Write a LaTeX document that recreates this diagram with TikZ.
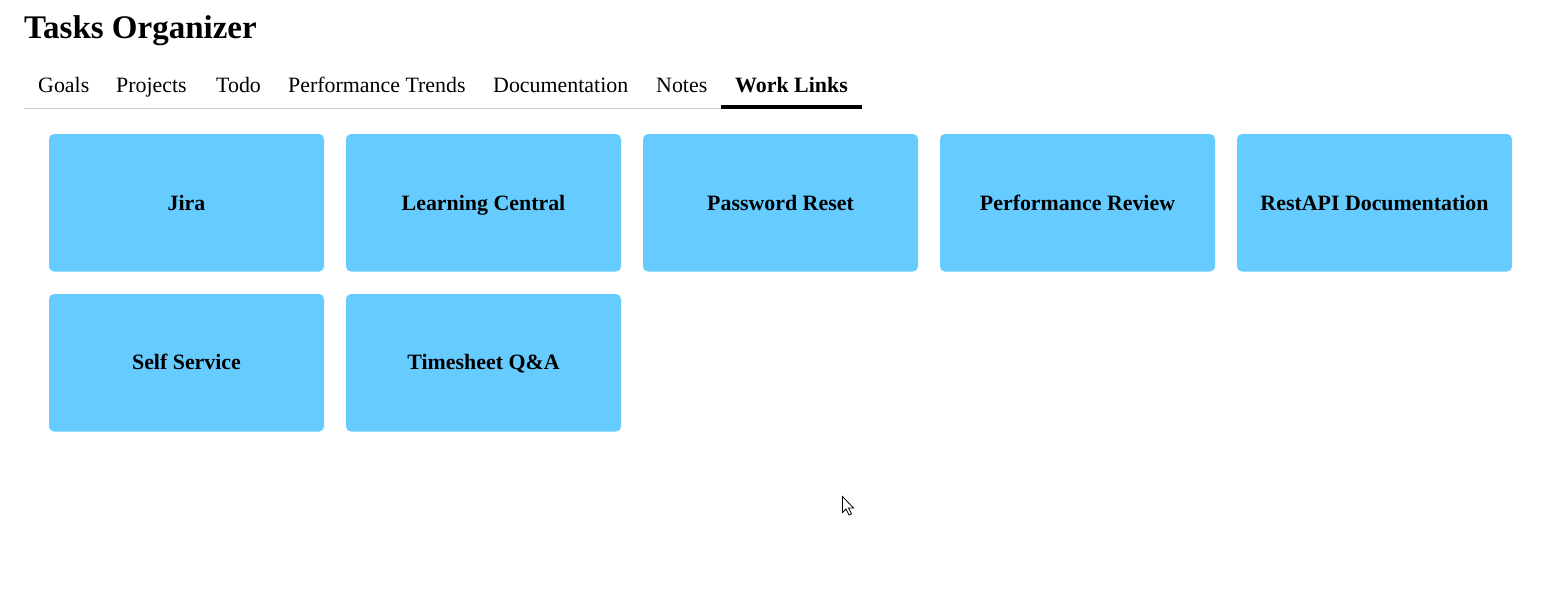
\documentclass[tikz,border=0pt]{standalone}
\usepackage{fontspec}
\setmainfont{Liberation Serif}
\definecolor{tilebg}{HTML}{66CCFF}
\definecolor{rulegray}{HTML}{CCCCCC}
\begin{document}
\begin{tikzpicture}[x=1pt,y=-1pt,
  tile/.style={fill=tilebg,rounded corners=5pt},
  tilelabel/.style={anchor=base,inner sep=0pt,font=\fontsize{21.9}{24}\selectfont\bfseries},
  tablabel/.style={anchor=base west,inner sep=0pt,font=\fontsize{21.9}{24}\selectfont},
  titlelabel/.style={anchor=base west,inner sep=0pt,font=\fontsize{33}{36}\selectfont\bfseries}]
\useasboundingbox[fill=white] (0,0) rectangle (1552,598);
% title
\node[titlelabel] (title) at (24,38) {Tasks Organizer};
% tabs
\node[tablabel] (t1) at (38,92) {Goals};
\node[tablabel] (t2) at (116,92) {Projects};
\node[tablabel] (t3) at (216,92) {Todo};
\node[tablabel] (t4) at (288,92) {Performance Trends};
\node[tablabel] (t5) at (493,92) {Documentation};
\node[tablabel] (t6) at (656,92) {Notes};
\node[tablabel,font=\fontsize{21.9}{24}\selectfont\bfseries] (t7) at (735,92) {Work Links};
\draw[rulegray,line width=1pt] (24,108) -- (862,108);
\fill[black] (721,105) rectangle (862,109);
% tiles row 1
\foreach \x/\lab/\nm in {49/Jira/a,346/Learning Central/b,643/Password Reset/c,940/Performance Review/d,1237/RestAPI Documentation/e}{
  \fill[tile] (\x,134) rectangle ++(275,137.5);
  \node[tilelabel] (\nm) at (\x+137.5,210) {\lab};
}
% tiles row 2
\foreach \x/\lab/\nm in {49/Self Service/f,346/Timesheet Q\&A/g}{
  \fill[tile] (\x,294) rectangle ++(275,137.5);
  \node[tilelabel] (\nm) at (\x+137.5,369) {\lab};
}
% mouse cursor
\draw[fill=white,line width=0.8pt,line join=miter] (842.5,496.5) -- ++(0,16) -- ++(3.5,-3.5) -- ++(3,6) -- ++(2.5,-1.2) -- ++(-3,-5.8) -- ++(5,0) -- cycle;
\end{tikzpicture}
\end{document}
